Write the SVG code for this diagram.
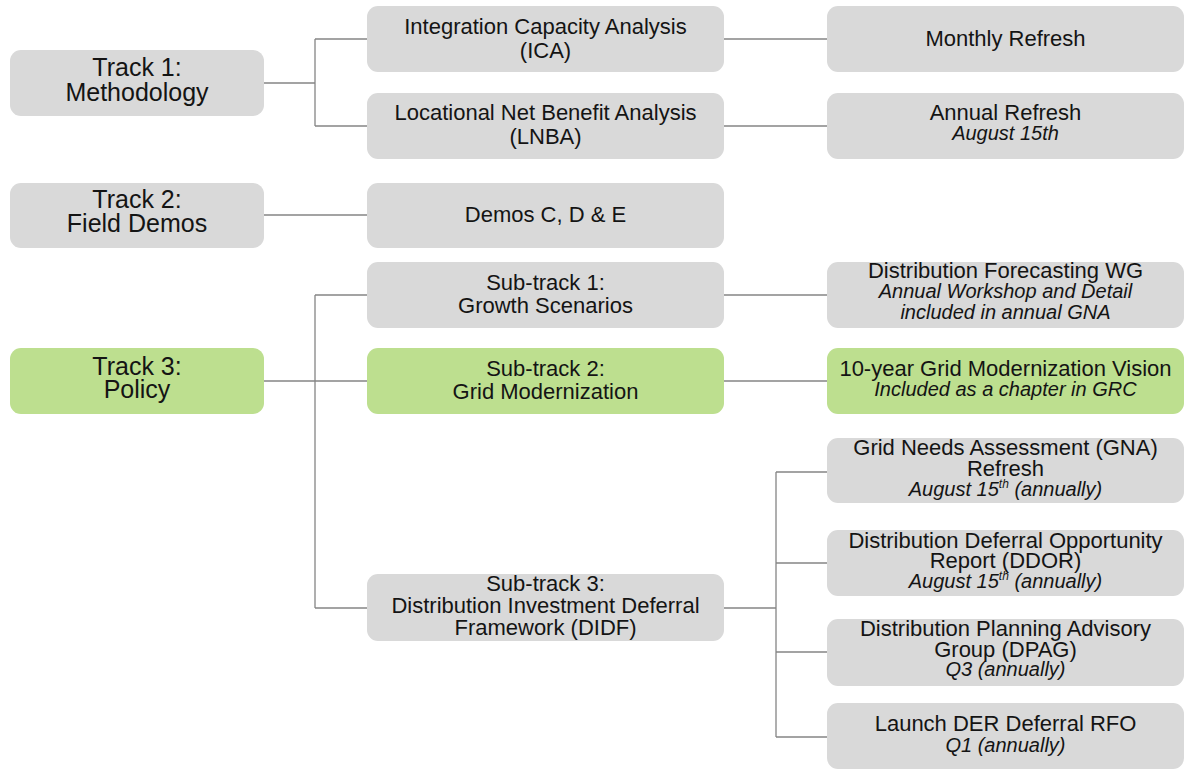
<svg xmlns="http://www.w3.org/2000/svg" width="1186" height="771" viewBox="0 0 1186 771">
  <style>
    .box { fill: #d9d9d9; }
    .green { fill: #bddf8f; }
    .lbl { font-family: "Liberation Sans", Arial, sans-serif; font-size: 22px; fill: #141414; text-anchor: middle; }
    .big { font-size: 25px; }
    .it { font-style: italic; font-size: 20px; }
    .sup { font-size: 12px; }
    .wire { fill: none; stroke: #858585; stroke-width: 1.3; }
  </style>
  <rect width="1186" height="771" fill="#ffffff"/>

  <!-- connectors -->
  <g id="connectors" class="wire">
    <path d="M264 83 H315 M315 39 V126 M315 39 H367 M315 126 H367"/>
    <path d="M724 39 H827 M724 126 H827"/>
    <path d="M264 215 H367"/>
    <path d="M264 381 H367 M315 295 V608 M315 295 H367 M315 608 H367"/>
    <path d="M724 295 H827 M724 381 H827"/>
    <path d="M724 608 H776 M776 472 V737 M776 472 H827 M776 563 H827 M776 652 H827 M776 737 H827"/>
  </g>

  <!-- column 1 -->
  <g id="track1">
    <rect class="box" x="10" y="50" width="254" height="66" rx="11"/>
    <text class="lbl big" x="137" y="76">Track 1:</text>
    <text class="lbl big" x="137" y="101">Methodology</text>
  </g>
  <g id="track2">
    <rect class="box" x="10" y="183" width="254" height="65" rx="11"/>
    <text class="lbl big" x="137" y="208">Track 2:</text>
    <text class="lbl big" x="137" y="232">Field Demos</text>
  </g>
  <g id="track3">
    <rect class="green" x="10" y="348" width="254" height="66" rx="11"/>
    <text class="lbl big" x="137" y="375">Track 3:</text>
    <text class="lbl big" x="137" y="398">Policy</text>
  </g>

  <!-- column 2 -->
  <g id="ica">
    <rect class="box" x="367" y="6" width="357" height="66" rx="11"/>
    <text class="lbl" x="545.5" y="34">Integration Capacity Analysis</text>
    <text class="lbl" x="545.5" y="58">(ICA)</text>
  </g>
  <g id="lnba">
    <rect class="box" x="367" y="93" width="357" height="66" rx="11"/>
    <text class="lbl" x="545.5" y="120">Locational Net Benefit Analysis</text>
    <text class="lbl" x="545.5" y="144">(LNBA)</text>
  </g>
  <g id="demos">
    <rect class="box" x="367" y="183" width="357" height="65" rx="11"/>
    <text class="lbl" x="545.5" y="222">Demos C, D &amp; E</text>
  </g>
  <g id="subtrack1">
    <rect class="box" x="367" y="262" width="357" height="66" rx="11"/>
    <text class="lbl" x="545.5" y="290">Sub-track 1:</text>
    <text class="lbl" x="545.5" y="313">Growth Scenarios</text>
  </g>
  <g id="subtrack2">
    <rect class="green" x="367" y="348" width="357" height="66" rx="11"/>
    <text class="lbl" x="545.5" y="376">Sub-track 2:</text>
    <text class="lbl" x="545.5" y="399">Grid Modernization</text>
  </g>
  <g id="subtrack3">
    <rect class="box" x="367" y="574" width="357" height="67" rx="11"/>
    <text class="lbl" x="545.5" y="591">Sub-track 3:</text>
    <text class="lbl" x="545.5" y="613">Distribution Investment Deferral</text>
    <text class="lbl" x="545.5" y="635">Framework (DIDF)</text>
  </g>

  <!-- column 3 -->
  <g id="monthly">
    <rect class="box" x="827" y="6" width="357" height="66" rx="11"/>
    <text class="lbl" x="1005.5" y="46">Monthly Refresh</text>
  </g>
  <g id="annual">
    <rect class="box" x="827" y="93" width="357" height="66" rx="11"/>
    <text class="lbl" x="1005.5" y="120">Annual Refresh</text>
    <text class="lbl it" x="1005.5" y="140">August 15th</text>
  </g>
  <g id="forecasting">
    <rect class="box" x="827" y="262" width="357" height="66" rx="11"/>
    <text class="lbl" x="1005.5" y="278">Distribution Forecasting WG</text>
    <text class="lbl it" x="1005.5" y="298">Annual Workshop and Detail</text>
    <text class="lbl it" x="1005.5" y="319">included in annual GNA</text>
  </g>
  <g id="vision">
    <rect class="green" x="827" y="348" width="357" height="66" rx="11"/>
    <text class="lbl" x="1005.5" y="376">10-year Grid Modernization Vision</text>
    <text class="lbl it" x="1005.5" y="396">Included as a chapter in GRC</text>
  </g>
  <g id="gna">
    <rect class="box" x="827" y="438" width="357" height="65" rx="11"/>
    <text class="lbl" x="1005.5" y="455">Grid Needs Assessment (GNA)</text>
    <text class="lbl" x="1005.5" y="476">Refresh</text>
    <text class="lbl it" x="1005.5" y="496">August 15<tspan class="sup" dy="-8">th</tspan><tspan dy="8"> (annually)</tspan></text>
  </g>
  <g id="ddor">
    <rect class="box" x="827" y="530" width="357" height="66" rx="11"/>
    <text class="lbl" x="1005.5" y="548">Distribution Deferral Opportunity</text>
    <text class="lbl" x="1005.5" y="568">Report (DDOR)</text>
    <text class="lbl it" x="1005.5" y="588">August 15<tspan class="sup" dy="-8">th</tspan><tspan dy="8"> (annually)</tspan></text>
  </g>
  <g id="dpag">
    <rect class="box" x="827" y="619" width="357" height="67" rx="11"/>
    <text class="lbl" x="1005.5" y="636">Distribution Planning Advisory</text>
    <text class="lbl" x="1005.5" y="657">Group (DPAG)</text>
    <text class="lbl it" x="1005.5" y="676">Q3 (annually)</text>
  </g>
  <g id="rfo">
    <rect class="box" x="827" y="703" width="357" height="66" rx="11"/>
    <text class="lbl" x="1005.5" y="731">Launch DER Deferral RFO</text>
    <text class="lbl it" x="1005.5" y="752">Q1 (annually)</text>
  </g>
</svg>
